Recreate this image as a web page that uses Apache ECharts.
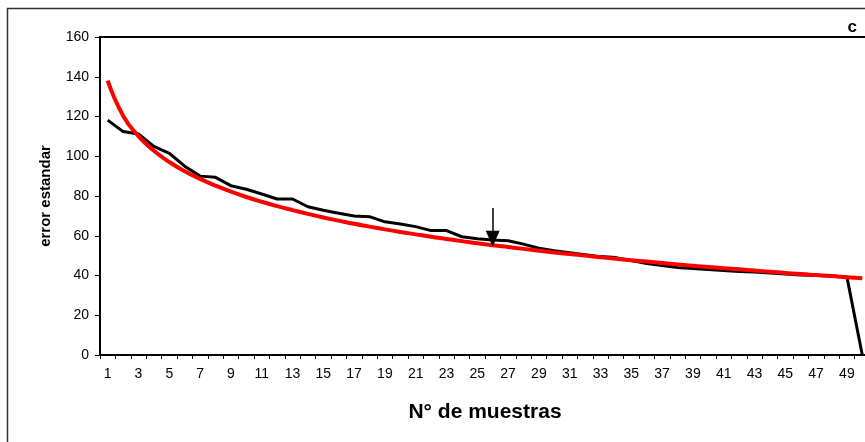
<!DOCTYPE html>
<html>
<head>
<meta charset="utf-8">
<script src="https://cdn.jsdelivr.net/npm/echarts@6/dist/echarts.min.js"></script>
<style>html,body{margin:0;padding:0;background:#fff;}#c{width:865px;height:442px;}</style>
</head>
<body>
<div id="c"></div>
<script>
var categories = [];
for (var i = 1; i <= 50; i++) categories.push(String(i));

var errorObserved = [118.2, 112.4, 111.2, 105, 101.5, 95, 90, 89.4, 85.2, 83.4,
  81, 78.5, 78.5, 74.6, 72.8, 71.3, 69.9, 69.6, 67, 65.9,
  64.6, 62.6, 62.6, 59.5, 58.5, 57.9, 57.5, 55.8, 53.7, 52.5,
  51.5, 50.5, 49.5, 49, 47.5, 46, 45, 44, 43.5, 43,
  42.5, 42, 41.8, 41.3, 40.8, 40.3, 40, 39.7, 39.3, 0];

var errorFitted = [138, 120.4, 110.1, 102.8, 97.1, 92.5, 88.6, 85.2, 82.2, 79.5,
  77.1, 74.9, 72.9, 71.0, 69.2, 67.6, 66.0, 64.6, 63.2, 61.9,
  60.7, 59.5, 58.4, 57.3, 56.2, 55.2, 54.3, 53.4, 52.5, 51.6,
  50.8, 50.0, 49.2, 48.4, 47.7, 47.0, 46.3, 45.6, 44.9, 44.3,
  43.7, 43.1, 42.5, 41.9, 41.3, 40.7, 40.2, 39.7, 39.1, 38.6];

var arrowCategory = '26';
var arrowFrom = 74;
var arrowTo = 58.5;

var chart = echarts.init(document.getElementById('c'));
var font = 'Liberation Sans, Arial, sans-serif';
chart.setOption({
  animation: false,
  backgroundColor: '#fff',
  graphic: [
    { type: 'rect', shape: { x: 7.5, y: 8.5, width: 900, height: 500 }, style: { fill: 'none', stroke: '#333', lineWidth: 1.5 }, z: 0 },
    { type: 'text', right: 8, top: 19, style: { text: 'c', font: 'bold 17px ' + font, fill: '#000' } }
  ],
  grid: { left: 100, top: 37, width: 770, bottom: 87, outerBoundsMode: 'none', show: true, borderColor: '#000', borderWidth: 2, backgroundColor: 'transparent' },
  xAxis: {
    type: 'category',
    data: categories,
    boundaryGap: true,
    name: 'N° de muestras',
    nameLocation: 'middle',
    nameGap: 47,
    nameTextStyle: { fontFamily: font, fontWeight: 'bold', fontSize: 21, color: '#000' },
    axisLine: { lineStyle: { color: '#000', width: 2 } },
    axisTick: { show: true, interval: 0, length: 4, lineStyle: { color: '#000', width: 1 } },
    axisLabel: { interval: 1, fontFamily: font, fontSize: 14, color: '#000', margin: 12 },
    splitLine: { show: false }
  },
  yAxis: {
    type: 'value',
    min: 0, max: 160, interval: 20,
    name: 'error estandar',
    nameLocation: 'middle',
    nameGap: 47,
    nameTextStyle: { fontFamily: font, fontWeight: 'bold', fontSize: 15, color: '#000' },
    axisLine: { show: true, lineStyle: { color: '#000', width: 2 } },
    axisTick: { show: true, length: 5, lineStyle: { color: '#000', width: 1 } },
    axisLabel: { fontFamily: font, fontSize: 14, color: '#000', margin: 11 },
    splitLine: { show: false }
  },
  series: [
    {
      type: 'line',
      data: errorObserved,
      symbol: 'none',
      lineStyle: { color: '#000', width: 3 },
      markLine: {
        silent: true,
        symbol: ['none', 'triangle'],
        symbolSize: [14, 16],
        label: { show: false },
        lineStyle: { color: '#000', width: 1.5, type: 'solid' },
        data: [[{ coord: [arrowCategory, arrowFrom] }, { coord: [arrowCategory, arrowTo] }]]
      },
      z: 3
    },
    {
      type: 'line',
      data: errorFitted,
      symbol: 'none',
      smooth: true,
      lineStyle: { color: '#ff0000', width: 4 },
      z: 4
    }
  ]
});
</script>
</body>
</html>
